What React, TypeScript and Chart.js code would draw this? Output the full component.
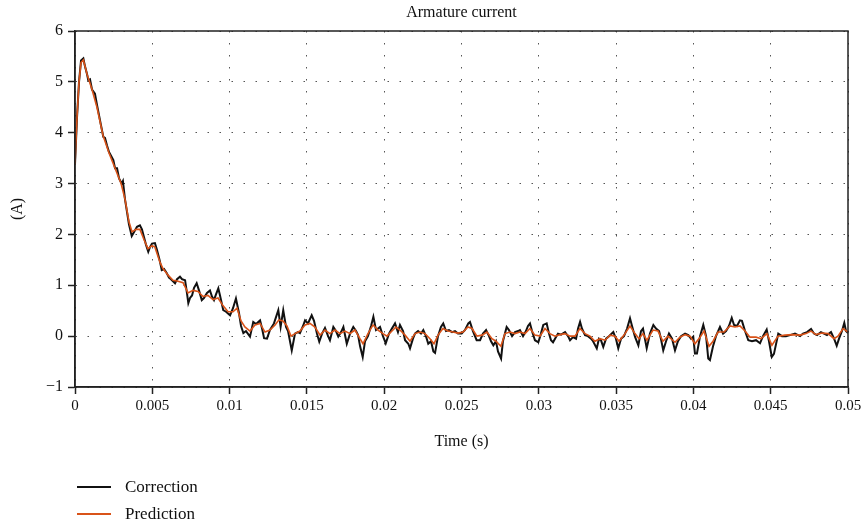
import React, { useEffect, useRef } from "react";
import { Chart, registerables } from "chart.js";

Chart.register(...registerables);

// ---- Data (time in milliseconds, current in amperes) ----
const correctionTimeMs = [
  0, 0.13, 0.26, 0.39, 0.54, 0.65, 0.78, 0.86, 0.97, 1.1, 1.29, 1.42, 1.55, 1.68, 1.83, 1.94, 2.07, 2.2, 2.33, 2.48,
  2.59, 2.72, 2.85, 3.02, 3.1, 3.23, 3.36, 3.49, 3.67, 3.82, 4.01, 4.2, 4.33, 4.46, 4.59, 4.74, 4.85, 4.98, 5.17, 5.3,
  5.47, 5.61, 5.76, 5.93, 6.08, 6.21, 6.34, 6.47, 6.6, 6.79, 6.92, 7.12, 7.24, 7.33, 7.44, 7.57, 7.7, 7.87, 8.02, 8.2,
  8.34, 8.54, 8.73, 8.86, 8.99, 9.12, 9.27, 9.38, 9.59, 9.77, 10.03, 10.22, 10.41, 10.61, 10.74, 10.89, 11.06, 11.32, 11.53, 11.71,
  11.97, 12.1, 12.23, 12.42, 12.61, 12.87, 13.15, 13.3, 13.47, 13.65, 13.78, 14.02, 14.23, 14.42, 14.55, 14.75, 14.88, 15.07, 15.31, 15.46,
  15.65, 15.8, 15.98, 16.17, 16.37, 16.49, 16.71, 16.88, 17.03, 17.21, 17.36, 17.58, 17.79, 18.0, 18.18, 18.31, 18.44, 18.61, 18.76, 18.95,
  19.15, 19.3, 19.47, 19.6, 19.73, 19.92, 20.1, 20.31, 20.5, 20.7, 20.89, 21.02, 21.22, 21.35, 21.56, 21.67, 21.86, 21.99, 22.19, 22.38,
  22.53, 22.7, 22.85, 23.03, 23.18, 23.29, 23.48, 23.67, 23.82, 24.0, 24.19, 24.39, 24.58, 24.77, 25.01, 25.23, 25.44, 25.55, 25.74, 25.98,
  26.2, 26.39, 26.59, 26.78, 26.91, 27.06, 27.23, 27.36, 27.56, 27.68, 27.92, 28.07, 28.27, 28.46, 28.66, 28.78, 28.98, 29.17, 29.3, 29.43,
  29.56, 29.75, 29.97, 30.14, 30.29, 30.51, 30.66, 30.79, 30.92, 31.05, 31.24, 31.44, 31.7, 31.89, 32.02, 32.21, 32.41, 32.54, 32.67, 32.79,
  32.99, 33.18, 33.38, 33.51, 33.75, 33.89, 34.02, 34.17, 34.35, 34.54, 34.82, 34.99, 35.14, 35.32, 35.51, 35.71, 35.9, 36.03, 36.22, 36.44,
  36.61, 36.74, 36.98, 37.19, 37.41, 37.58, 37.78, 37.9, 38.05, 38.23, 38.42, 38.62, 38.81, 39.0, 39.2, 39.46, 39.67, 39.85, 39.99, 40.1,
  40.23, 40.43, 40.64, 40.82, 40.96, 41.07, 41.27, 41.46, 41.72, 41.92, 42.11, 42.3, 42.48, 42.63, 42.82, 43.01, 43.14, 43.34, 43.55, 43.79,
  44.05, 44.31, 44.5, 44.74, 44.89, 45.07, 45.21, 45.49, 45.73, 45.99, 46.25, 46.57, 46.9, 47.09, 47.35, 47.61, 47.8, 48.0, 48.25, 48.45,
  48.64, 48.9, 49.1, 49.27, 49.42, 49.61, 49.76, 49.87, 50.0,
];
const correctionA = [
  3.38, 4.3, 5.0, 5.42, 5.46, 5.3, 5.15, 5.03, 5.05, 4.85, 4.77, 4.55, 4.35, 4.15, 3.92, 3.9, 3.75, 3.62, 3.55, 3.46,
  3.3, 3.3, 3.1, 3.0, 3.05, 2.7, 2.45, 2.2, 1.97, 2.05, 2.15, 2.18, 2.1, 1.95, 1.8, 1.66, 1.75, 1.82, 1.83, 1.7,
  1.5, 1.3, 1.32, 1.24, 1.15, 1.12, 1.08, 1.04, 1.12, 1.17, 1.12, 1.1, 0.85, 0.65, 0.75, 0.8, 0.95, 1.04, 0.9, 0.71,
  0.75, 0.85, 0.9, 0.78, 0.71, 0.82, 0.94, 0.8, 0.51, 0.48, 0.41, 0.55, 0.74, 0.45, 0.2, 0.06, 0.1, -0.01, 0.28, 0.24,
  0.31, 0.15, -0.04, -0.05, 0.12, 0.25, 0.51, 0.18, 0.51, 0.18, 0.1, -0.28, 0.05, 0.08, 0.06, 0.2, 0.31, 0.25, 0.41, 0.3,
  0.05, -0.11, 0.05, 0.16, 0.0, -0.08, 0.18, 0.1, -0.01, 0.08, 0.18, -0.15, 0.05, 0.18, 0.1, 0.02, -0.2, -0.41, -0.1, 0.0,
  0.2, 0.38, 0.12, 0.15, 0.18, 0.0, -0.14, 0.05, 0.15, 0.25, 0.08, 0.22, 0.1, -0.08, -0.15, -0.24, -0.05, 0.05, 0.1, 0.05,
  0.12, 0.0, -0.15, -0.1, -0.3, -0.33, 0.0, 0.18, 0.25, 0.1, 0.12, 0.08, 0.1, 0.05, 0.05, 0.12, 0.25, 0.28, 0.1, -0.08,
  -0.08, 0.05, 0.12, 0.0, -0.1, -0.18, -0.1, -0.3, -0.44, -0.1, 0.18, 0.12, 0.0, 0.08, 0.1, 0.12, 0.0, 0.1, 0.2, 0.25,
  0.1, -0.08, -0.12, 0.05, 0.22, 0.25, 0.05, -0.08, -0.12, -0.05, 0.05, 0.03, 0.08, 0.0, -0.08, -0.02, -0.05, 0.15, 0.28, 0.15,
  0.02, 0.0, -0.05, -0.1, -0.24, -0.05, -0.08, -0.21, -0.05, 0.0, 0.08, -0.05, -0.24, -0.05, 0.0, 0.15, 0.35, 0.2, -0.01, -0.18,
  0.1, 0.15, -0.24, 0.05, 0.22, 0.15, 0.1, -0.05, -0.28, -0.1, 0.05, -0.05, -0.28, -0.1, 0.0, 0.05, 0.02, -0.05, -0.01, -0.34,
  -0.34, 0.0, 0.22, 0.0, -0.44, -0.47, -0.2, 0.0, 0.18, 0.05, 0.1, 0.2, 0.36, 0.22, 0.2, 0.31, 0.3, 0.1, -0.08, -0.1,
  -0.08, -0.14, 0.0, 0.13, -0.1, -0.41, -0.35, 0.05, 0.0, 0.0, 0.02, 0.05, 0.0, 0.05, 0.08, 0.14, 0.05, 0.02, 0.08, 0.05,
  0.02, 0.08, -0.05, -0.19, -0.05, 0.1, 0.26, 0.1, 0.06,
];

const predictionTimeMs = [
  0, 0.13, 0.26, 0.39, 0.54, 0.78, 1.1, 1.42, 1.81, 2.2, 2.59, 2.98, 3.23, 3.49, 3.69, 3.95, 4.2, 4.46, 4.72, 4.98,
  5.17, 5.5, 5.69, 6.02, 6.34, 6.66, 6.99, 7.31, 7.63, 7.96, 8.28, 8.6, 8.93, 9.25, 9.57, 9.9, 10.22, 10.48, 10.74, 10.99,
  11.32, 11.64, 11.97, 12.29, 12.61, 12.94, 13.19, 13.45, 13.71, 13.97, 14.23, 14.55, 14.88, 15.2, 15.52, 15.85, 16.17, 16.49, 16.82, 17.14,
  17.46, 17.79, 18.11, 18.43, 18.63, 18.95, 19.28, 19.6, 19.92, 20.18, 20.5, 20.76, 21.02, 21.35, 21.67, 21.99, 22.32, 22.64, 22.96, 23.22,
  23.48, 23.8, 24.13, 24.45, 24.77, 25.1, 25.42, 25.68, 26.0, 26.33, 26.65, 26.97, 27.23, 27.55, 27.81, 28.14, 28.46, 28.78, 29.11, 29.43,
  29.75, 30.08, 30.4, 30.72, 31.05, 31.37, 31.69, 32.02, 32.34, 32.66, 32.99, 33.31, 33.63, 33.96, 34.28, 34.61, 34.93, 35.19, 35.51, 35.9,
  36.22, 36.48, 36.74, 36.99, 37.39, 37.71, 38.03, 38.36, 38.81, 39.13, 39.46, 39.78, 40.1, 40.43, 40.69, 41.01, 41.27, 41.59, 41.98, 42.37,
  42.69, 43.01, 43.34, 43.66, 44.05, 44.37, 44.76, 45.08, 45.47, 45.92, 46.38, 46.9, 47.28, 47.61, 47.93, 48.32, 48.71, 49.1, 49.35, 49.68,
  50.0,
];
const predictionA = [
  3.38, 4.3, 5.0, 5.38, 5.43, 5.15, 4.85, 4.5, 3.95, 3.6, 3.3, 3.0, 2.7, 2.25, 2.05, 2.1, 2.1, 1.9, 1.72, 1.78,
  1.75, 1.45, 1.33, 1.2, 1.1, 1.08, 1.05, 0.85, 0.9, 0.88, 0.78, 0.8, 0.72, 0.75, 0.6, 0.48, 0.48, 0.55, 0.3, 0.18,
  0.1, 0.22, 0.25, 0.08, 0.12, 0.22, 0.32, 0.3, 0.2, 0.0, 0.05, 0.1, 0.22, 0.25, 0.18, 0.02, 0.12, 0.05, 0.12, 0.05,
  0.1, 0.05, 0.12, -0.05, -0.15, 0.05, 0.22, 0.12, 0.05, 0.0, 0.1, 0.18, 0.12, 0.02, -0.1, 0.05, 0.08, 0.05, -0.05, -0.15,
  0.02, 0.15, 0.1, 0.08, 0.06, 0.08, 0.18, 0.15, 0.0, 0.02, 0.08, -0.05, -0.1, -0.2, 0.05, 0.08, 0.05, 0.08, 0.05, 0.15,
  0.02, 0.0, 0.15, 0.05, 0.0, 0.03, 0.05, 0.0, 0.0, 0.15, 0.05, 0.0, -0.1, -0.05, -0.08, 0.02, 0.0, -0.1, 0.02, 0.2,
  0.05, -0.05, 0.05, -0.08, 0.12, 0.1, -0.1, 0.0, -0.12, -0.02, 0.03, 0.0, -0.15, -0.02, 0.1, -0.2, -0.1, 0.08, 0.08, 0.2,
  0.18, 0.2, 0.1, -0.02, -0.02, -0.05, 0.05, -0.18, 0.0, 0.02, 0.03, 0.02, 0.05, 0.1, 0.03, 0.06, 0.05, -0.05, 0.0, 0.15,
  0.08,
];

const yTicks = [-1, 0, 1, 2, 3, 4, 5, 6];
const xTickStep = 0.005;
const chartTitle = "Armature current";
const xTitle = "Time (s)";
const yTitle = "(A)";
const seriesNames = ["Correction", "Prediction"];
const seriesColors = ["#111111", "#D95319"];

const SERIF = "'Liberation Serif', 'Times New Roman', serif";

function fmtX(v: number): string {
  return String(parseFloat(Number(v).toFixed(4)));
}
function fmtY(v: number): string {
  return v < 0 ? "\u2212" + Math.abs(v) : String(v);
}

const decorPlugin = {
  id: "decor",
  afterDraw(chart: any) {
    const { ctx, chartArea } = chart;
    const { left, right, top, bottom } = chartArea;
    ctx.save();
    // box
    ctx.strokeStyle = "#222";
    ctx.lineWidth = 1.5;
    ctx.strokeRect(left, top, right - left, bottom - top);
    // title
    ctx.fillStyle = "#111";
    ctx.font = `16px ${SERIF}`;
    ctx.textAlign = "center";
    ctx.textBaseline = "middle";
    ctx.fillText(chartTitle, (left + right) / 2, top - 18);
    // legend
    ctx.font = `17px ${SERIF}`;
    ctx.textAlign = "left";
    const legY = [bottom + 100, bottom + 127];
    seriesNames.forEach((name, i) => {
      ctx.strokeStyle = seriesColors[i];
      ctx.lineWidth = 2;
      ctx.beginPath();
      ctx.moveTo(left + 2, legY[i]);
      ctx.lineTo(left + 36, legY[i]);
      ctx.stroke();
      ctx.fillStyle = "#111";
      ctx.fillText(name, left + 50, legY[i] + 1);
    });
    ctx.restore();
  },
};

export default function App() {
  const ref = useRef<HTMLCanvasElement | null>(null);

  useEffect(() => {
    if (!ref.current) return;
    const correction = correctionTimeMs.map((t, i) => ({ x: t / 1000, y: correctionA[i] }));
    const prediction = predictionTimeMs.map((t, i) => ({ x: t / 1000, y: predictionA[i] }));

    const chart = new Chart(ref.current, {
      type: "line",
      data: {
        datasets: [
          {
            label: seriesNames[0],
            data: correction,
            borderColor: seriesColors[0],
            borderWidth: 2,
            pointRadius: 0,
            tension: 0,
            order: 1,
          },
          {
            label: seriesNames[1],
            data: prediction,
            borderColor: seriesColors[1],
            borderWidth: 1.6,
            pointRadius: 0,
            tension: 0,
            order: 0,
          },
        ],
      },
      options: {
        responsive: false,
        animation: false,
        events: [],
        layout: { padding: { top: 31, right: 18, bottom: 72, left: 0 } },
        plugins: {
          legend: { display: false },
          title: { display: false },
          tooltip: { enabled: false },
        },
        scales: {
          x: {
            type: "linear",
            min: 0,
            max: 0.05,
            afterFit: (s: any) => {
              s.height = 70;
            },
            afterBuildTicks: (s: any) => {
              const arr = [];
              for (let i = 0; i <= 10; i++) arr.push({ value: parseFloat((i * xTickStep).toFixed(4)) });
              s.ticks = arr;
            },
            ticks: {
              color: "#111",
              font: { family: SERIF, size: 15 },
              padding: 3,
              maxRotation: 0,
              autoSkip: false,
              callback: (v: any) => fmtX(v),
            },
            grid: {
              color: "#555",
              lineWidth: 1,
              drawTicks: true,
              tickLength: 7,
              tickColor: "#222",
              tickWidth: 1.5,
              tickBorderDash: [],
            },
            border: { display: true, color: "#222", width: 1.5, dash: [1.5, 10.5] },
            title: {
              display: true,
              text: xTitle,
              color: "#111",
              font: { family: SERIF, size: 16 },
              padding: { top: 0, bottom: 6 },
            },
          },
          y: {
            type: "linear",
            min: -1,
            max: 6,
            afterFit: (s: any) => {
              s.width = 75;
            },
            afterBuildTicks: (s: any) => {
              s.ticks = yTicks.map((v) => ({ value: v }));
            },
            ticks: {
              color: "#111",
              font: { family: SERIF, size: 16 },
              padding: 5,
              autoSkip: false,
              callback: (v: any) => fmtY(Number(v)),
            },
            grid: {
              color: "#555",
              lineWidth: 1,
              drawTicks: true,
              tickLength: 7,
              tickColor: "#222",
              tickWidth: 1.5,
              tickBorderDash: [],
            },
            border: { display: true, color: "#222", width: 1.5, dash: [1.5, 10.5] },
            title: {
              display: true,
              text: yTitle,
              color: "#111",
              font: { family: SERIF, size: 16 },
              padding: { top: 8, bottom: 0 },
            },
          },
        },
      },
      plugins: [decorPlugin],
    } as any);

    return () => chart.destroy();
  }, []);

  return (
    <div style={{ position: "fixed", left: 0, top: 0, width: 866, height: 529, background: "#fff" }}>
      <canvas ref={ref} width={866} height={529} style={{ display: "block" }} />
    </div>
  );
}
